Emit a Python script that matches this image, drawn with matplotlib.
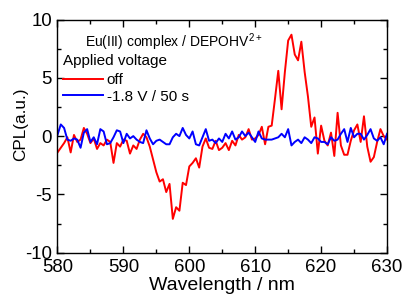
import matplotlib
matplotlib.use("Agg")
import matplotlib.pyplot as plt
from matplotlib.ticker import MultipleLocator
import numpy as np

plt.rcParams['font.family'] = ['Liberation Sans', 'DejaVu Sans']
plt.rcParams['mathtext.fontset'] = 'custom'
plt.rcParams['mathtext.rm'] = 'Liberation Sans'
plt.rcParams['mathtext.it'] = 'Liberation Sans:italic'
plt.rcParams['axes.unicode_minus'] = False

# wavelength grid, 0.5 nm step
wavelength = np.arange(580.0, 630.01, 0.5)

cpl_off = [
    -1.4, -1.0, -0.6, -0.1, -1.4, 0.1, -0.5, -0.3, 0.7, 0.2,
    -0.6, -0.2, -1.1, -0.6, -0.8, -0.3, -0.5, -2.3, -0.6, -0.9,
    -0.3, -0.4, -1.5, -0.8, -1.1, -0.3, 0.2, -0.1, -0.9, -2.0,
    -3.1, -3.9, -3.7, -4.8, -4.1, -7.1, -6.1, -6.4, -4.0, -4.2,
    -2.6, -2.3, -1.9, -2.7, -0.9, -0.2, -1.0, -1.1, -0.4, -1.2,
    -1.0, -0.6, -1.2, -0.4, -0.8, 0.1, -0.3, -0.1, 0.6, -0.3,
    -0.2, 0.1, 0.8, -0.7, 0.8, 0.9, 3.2, 5.6, 2.3, 5.5,
    8.2, 8.7, 7.0, 6.5, 8.1, 5.5, 3.4, 0.8, 1.6, -1.5,
    0.9, -0.4, -0.8, 0.3, -1.7, 2.0, -0.8, -1.6, -1.6, -0.4,
    0.5, 1.0, -0.5, 1.7, -0.9, -2.2, -1.8, -0.5, 0.6, 0.0,
    -0.3,
]

cpl_applied = [
    0.1, 1.0, 0.7, -0.3, -0.4, -0.2, -0.3, -1.0, 0.3, 0.6,
    -0.5, -0.1, -0.7, 0.6, 0.4, -0.7, -0.6, -0.1, 0.5, 0.4,
    -0.6, 0.2, -0.2, 0.0, -0.3, -0.5, -0.6, 0.5, -0.2, -0.7,
    -0.4, -0.3, -0.5, -0.7, -0.7, -0.1, 0.2, 0.0, 0.7, 0.1,
    -0.2, 0.4, -0.7, -0.8, -0.1, 0.6, -0.4, -0.3, -0.6, -0.2,
    -0.5, 0.2, -0.2, 0.4, -0.3, -0.1, 0.4, 0.0, 0.3, -0.1,
    -0.5, 0.4, -0.2, -0.3, -0.3, -0.3, -0.2, -0.1, 0.2, -0.1,
    0.6, -0.8, -0.5, -0.3, -0.6, -0.1, -0.3, -0.6, -0.1, -0.2,
    -0.5, -0.5, -0.7, -0.1, -0.4, -0.3, 0.2, 0.6, -0.5, 0.7,
    -0.1, 0.2, 0.2, -0.3, 0.1, 0.6, -0.2, -0.4, -0.1, -0.7,
    0.2,
]

fig = plt.figure(figsize=(4.04, 2.96), dpi=100)
ax = fig.add_axes([0.1423, 0.1463, 0.8157, 0.7877])

ax.plot(wavelength, cpl_off, color="#ff0000", lw=1.4, label="off")
ax.plot(wavelength, cpl_applied, color="#0000ff", lw=1.4, label="-1.8 V / 50 s")

ax.set_xlim(580, 630)
ax.set_ylim(-10, 10)
ax.xaxis.set_major_locator(MultipleLocator(10))
ax.xaxis.set_minor_locator(MultipleLocator(5))
ax.yaxis.set_major_locator(MultipleLocator(5))
ax.yaxis.set_minor_locator(MultipleLocator(2.5))
ax.tick_params(which="both", direction="in", top=True, right=True,
               labelsize=13.4, width=1)
ax.tick_params(which="major", length=5)
ax.tick_params(which="minor", length=3)
ax.tick_params(axis="x", which="major", pad=4.5)
ax.tick_params(axis="y", which="major", pad=4)
for s in ax.spines.values():
    s.set_linewidth(1)

ax.set_xlabel("Wavelength / nm", fontsize=14)
ax.xaxis.set_label_coords(0.5, -0.106)
ax.set_ylabel("CPL(a.u.)", fontsize=12.3)
ax.yaxis.set_label_coords(-0.089, 0.552)

ax.text(0.083, 0.884, "Eu(III) complex / DEPOHV$^{2+}$", transform=ax.transAxes,
        fontsize=10, va="baseline", ha="left")
ax.text(0.0167, 0.806, "Applied voltage", transform=ax.transAxes,
        fontsize=11, va="baseline", ha="left")
ax.legend(loc="upper left", bbox_to_anchor=(0.0167, 0.770), frameon=False,
          fontsize=11, handlelength=2.6, handletextpad=0.26,
          borderpad=0, borderaxespad=0, labelspacing=0.16)

fig.savefig("out.png", dpi=100)
